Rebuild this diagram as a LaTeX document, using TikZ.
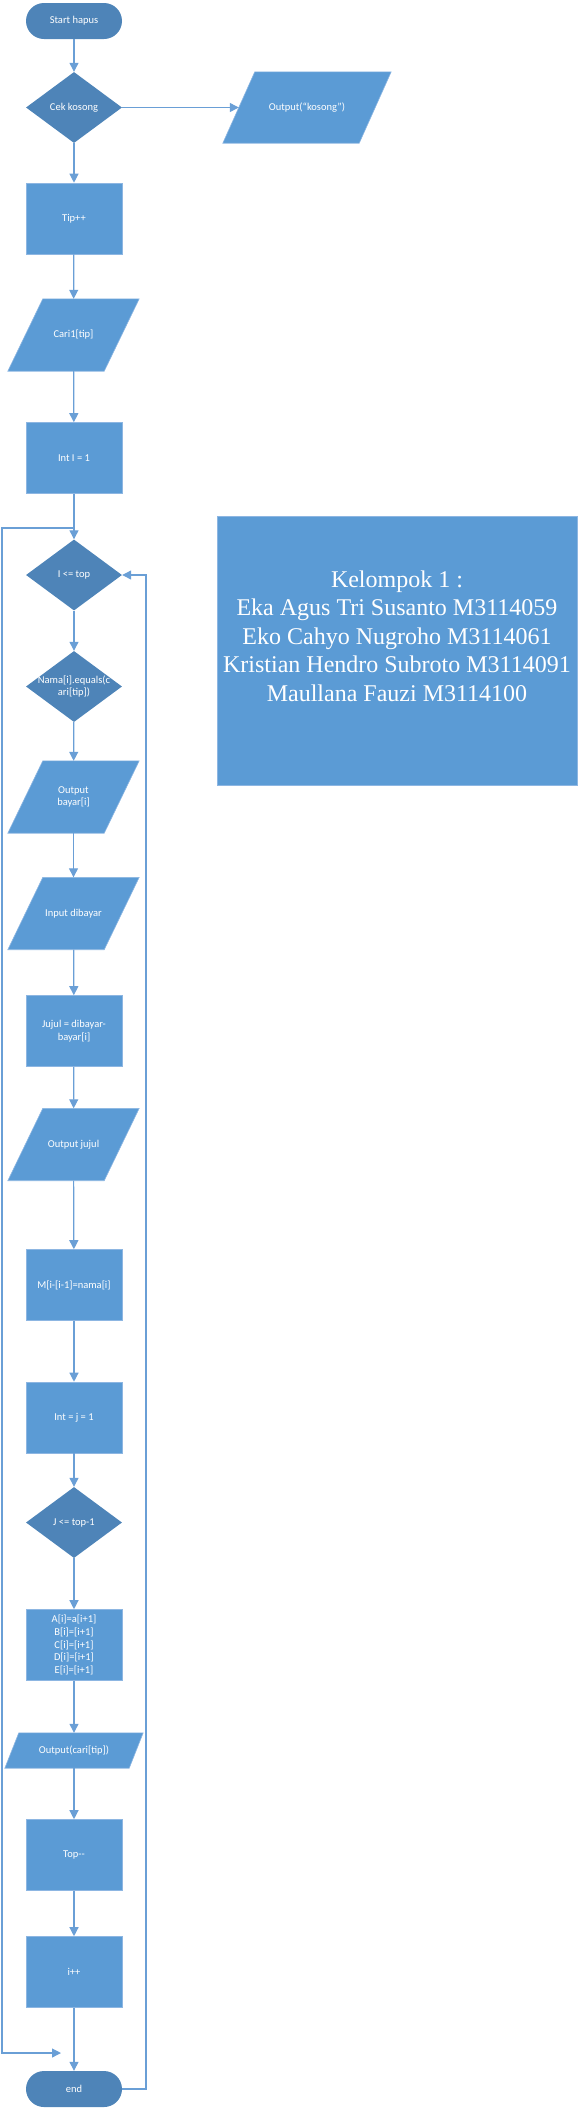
\documentclass[tikz,border=0pt]{standalone}
\usepackage{fontspec}
\setmainfont{Carlito}
\newfontfamily\serifk{Liberation Serif}
\usetikzlibrary{shapes.geometric,arrows.meta,backgrounds}
\definecolor{boxblue}{HTML}{5B9BD5}
\definecolor{darkblue}{HTML}{4E84B8}
\definecolor{lineblue}{HTML}{6A9FD6}
\definecolor{edgeblue}{HTML}{8DB6E2}
\newcommand{\parafill}[2]{%
  \begin{scope}[on background layer]
    \filldraw[fill=boxblue, draw=edgeblue, line width=0.6pt]
      ([xshift=#2]#1.north west) -- ([xshift=#2]#1.north east) --
      ([xshift=-#2]#1.south east) -- ([xshift=-#2]#1.south west) -- cycle;
  \end{scope}}
\begin{document}
\begin{tikzpicture}[x=1pt,y=-1pt,
 base/.style={font=\fontsize{10.5}{12.6}\selectfont, text=white, inner sep=0pt, align=center},
 procbox/.style={base, rectangle, fill=boxblue, draw=edgeblue, line width=0.6pt, minimum width=96pt, minimum height=71pt},
 decbox/.style={base, diamond, fill=darkblue, minimum width=96pt, minimum height=71pt},
 termbox/.style={base, rectangle, rounded corners=18pt, fill=darkblue, minimum width=96pt, minimum height=36pt},
 iobox/.style={base, rectangle},
 iobig/.style={iobox, minimum width=96pt, minimum height=72pt},
 flow/.style={draw=lineblue, line width=1.2pt, -{Triangle[length=9pt,width=9pt]}}
]
\useasboundingbox (0,0) rectangle (584,2115);

\node[termbox] (start) at (74,21) {Start hapus};
\node[decbox] (cek) at (74,107.5) {Cek kosong};
\node[iobox, minimum width=136pt, minimum height=71pt] (outk) at (307,107.5) {Output(“kosong”)};
\parafill{outk}{16pt}
\node[procbox] (tip) at (74,218.5) {Tip++};
\node[iobig] (cari) at (73.5,335) {Cari1[tip]};
\parafill{cari}{17.5pt}
\node[procbox] (inti) at (74,458) {Int I = 1};
\node[decbox] (ilt) at (74,575) {I <= top};
\node[decbox] (nama) at (74,686.5) {};
\node[base] (namat) at (74,686.5) {Nama[i].equals(c\\ari[tip])};
\node[iobig] (outb) at (73.5,797) {Output\\bayar[i]};
\parafill{outb}{17.5pt}
\node[iobig] (indb) at (73.5,913.5) {Input dibayar};
\parafill{indb}{17.5pt}
\node[procbox] (jujul) at (74,1031) {Jujul = dibayar-\\bayar[i]};
\node[iobig] (outj) at (73.5,1144.5) {Output jujul};
\parafill{outj}{17.5pt}
\node[procbox] (mnama) at (74,1285) {M[i-[i-1]=nama[i]};
\node[procbox] (intj) at (74,1417.5) {Int = j = 1};
\node[decbox] (jlt) at (74,1522.5) {J <= top-1};
\node[procbox] (arr) at (74,1645) {A[i]=a[i+1]\\B[i]=[i+1]\\C[i]=[i+1]\\D[i]=[i+1]\\E[i]=[i+1]};
\node[iobox, minimum width=124pt, minimum height=35pt] (outc) at (74,1750.5) {Output(cari[tip])};
\parafill{outc}{7pt}
\node[procbox] (topm) at (74,1855) {Top-{}-};
\node[procbox] (ipp) at (74,1972) {i++};
\node[termbox] (end) at (74,2089) {end};

\node[rectangle, fill=boxblue, draw=edgeblue, line width=0.6pt, minimum width=360pt, minimum height=269pt, inner sep=0pt] (kel) at (397,650.5) {};
\node[font=\serifk\fontsize{24}{28.6}\selectfont, text=white, align=center, inner sep=0pt] (kelt) at (397,636) {Kelompok 1 :\\Eka Agus Tri Susanto M3114059\\Eko Cahyo Nugroho M3114061\\Kristian Hendro Subroto M3114091\\Maullana Fauzi M3114100};

\draw[flow] (start) -- (cek);
\draw[flow] (cek) -- (outk);
\draw[flow] (cek) -- (tip);
\draw[flow] (tip) -- (cari);
\draw[flow] (cari) -- (inti);
\draw[flow] (inti) -- (ilt);
\draw[flow] (ilt) -- (nama);
\draw[flow] (nama) -- (outb);
\draw[flow] (outb) -- (indb);
\draw[flow] (indb) -- (jujul);
\draw[flow] (jujul) -- (outj);
\draw[flow] (outj) -- (mnama);
\draw[flow] (mnama) -- (intj);
\draw[flow] (intj) -- (jlt);
\draw[flow] (jlt) -- (arr);
\draw[flow] (arr) -- (outc);
\draw[flow] (outc) -- (topm);
\draw[flow] (topm) -- (ipp);
\draw[flow] (ipp) -- (end);

\coordinate (lj) at (74,528);
\coordinate (lc1) at (2,528);
\coordinate (lc2) at (2,2053);
\coordinate (lend) at (61,2053);
\draw[flow] (lj) -- (lc1) -- (lc2) -- (lend);

\coordinate (rc1) at (146,2089);
\coordinate (rc2) at (146,575);
\draw[flow] (end.east) -- (rc1) -- (rc2) -- (ilt.east);
\end{tikzpicture}
\end{document}
